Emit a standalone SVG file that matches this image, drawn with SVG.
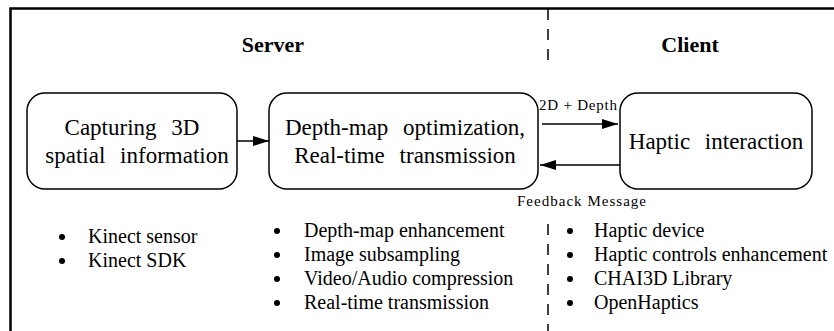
<svg xmlns="http://www.w3.org/2000/svg" width="834" height="331" viewBox="0 0 834 331">
<defs>
<style>
text{font-family:'Liberation Serif','Times New Roman',Times,'DejaVu Serif',serif;fill:#000}
.frame{fill:none;stroke:#000;stroke-width:2.5}
.dash{fill:none;stroke:#000;stroke-width:1.5;stroke-dasharray:11 9}
.box{fill:#fff;stroke:#000;stroke-width:1.5}
.bt{font-size:23px;text-anchor:middle;word-spacing:9px}
.hd{font-size:22px;font-weight:bold;text-anchor:middle}
.lb{font-size:15px}
.li{font-size:20px}
.bu{fill:#000}
.ln{fill:none;stroke:#000;stroke-width:1.5}
</style>
<marker id="ah" markerWidth="16" markerHeight="10" refX="16" refY="5" orient="auto" markerUnits="userSpaceOnUse">
<path d="M0,0 L16,5 L0,10 Z" fill="#000"/>
</marker>
</defs>
<rect width="834" height="331" fill="#fff"/>
<path class="frame" d="M10.5,331 V8.5 H834"/>
<path class="dash" d="M548,9 V64"/>
<path class="dash" d="M548,224 V331"/>
<text class="hd" x="273" y="52">Server</text>
<text class="hd" x="690" y="52">Client</text>
<g id="capture">
<rect class="box" x="27" y="93" width="210" height="96" rx="18" ry="18"/>
<text class="bt" x="132" y="135">Capturing 3D</text>
<text class="bt" x="137" y="163">spatial information</text>
</g>
<g id="server">
<rect class="box" x="269" y="93" width="269" height="96" rx="18" ry="18"/>
<text class="bt" x="405" y="135">Depth-map optimization,</text>
<text class="bt" x="405" y="163">Real-time transmission</text>
</g>
<g id="client">
<rect class="box" x="620" y="93" width="192" height="96" rx="18" ry="18"/>
<text class="bt" x="716" y="149">Haptic interaction</text>
</g>
<g id="connectors">
<line class="ln" x1="237" y1="141" x2="269" y2="141" marker-end="url(#ah)"/>
<line class="ln" x1="542" y1="124" x2="618" y2="124" marker-end="url(#ah)"/>
<line class="ln" x1="620" y1="165" x2="540" y2="165" marker-end="url(#ah)"/>
<text class="lb" x="539" y="110" textLength="78" lengthAdjust="spacing">2D + Depth</text>
<text class="lb" x="517" y="206" textLength="129" lengthAdjust="spacing">Feedback Message</text>
</g>
<g id="list-capture">
<circle class="bu" cx="62" cy="237" r="3"/><text class="li" x="88" y="243">Kinect sensor</text>
<circle class="bu" cx="62" cy="261" r="3"/><text class="li" x="88" y="267">Kinect SDK</text>
</g>
<g id="list-server">
<circle class="bu" cx="277" cy="231" r="3"/><text class="li" x="304" y="237">Depth-map enhancement</text>
<circle class="bu" cx="277" cy="255" r="3"/><text class="li" x="304" y="261">Image subsampling</text>
<circle class="bu" cx="277" cy="279" r="3"/><text class="li" x="304" y="285">Video/Audio compression</text>
<circle class="bu" cx="277" cy="303" r="3"/><text class="li" x="304" y="309">Real-time transmission</text>
</g>
<g id="list-client">
<circle class="bu" cx="570" cy="231" r="3"/><text class="li" x="594" y="237">Haptic device</text>
<circle class="bu" cx="570" cy="255" r="3"/><text class="li" x="594" y="261">Haptic controls enhancement</text>
<circle class="bu" cx="570" cy="279" r="3"/><text class="li" x="594" y="285">CHAI3D Library</text>
<circle class="bu" cx="570" cy="303" r="3"/><text class="li" x="594" y="309">OpenHaptics</text>
</g>
</svg>
